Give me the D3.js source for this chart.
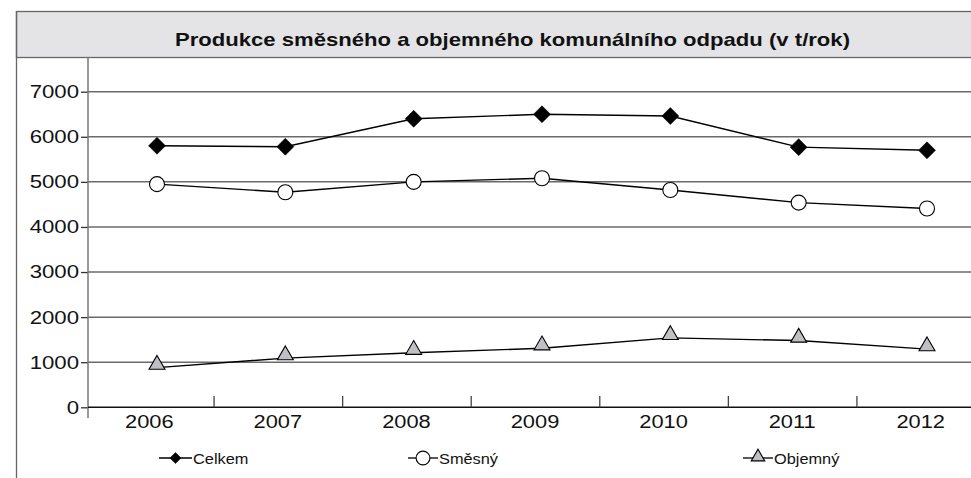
<!DOCTYPE html>
<html>
<head>
<meta charset="utf-8">
<script src="https://cdn.jsdelivr.net/npm/d3@7"></script>
<style>
body { margin: 0; background: #fff; }
svg { display: block; font-family: "Liberation Sans", Arial, sans-serif; }
</style>
</head>
<body>
<script>
var years = ["2006", "2007", "2008", "2009", "2010", "2011", "2012"];
var celkem = [5800, 5780, 6400, 6500, 6460, 5770, 5700];
var smesny = [4950, 4770, 5000, 5080, 4820, 4540, 4410];
var objemny = [880, 1090, 1210, 1310, 1540, 1480, 1290];
var yTicks = [0, 1000, 2000, 3000, 4000, 5000, 6000, 7000];
var title = "Produkce směsného a objemného komunálního odpadu (v t/rok)";

var svgWidth = 971, svgHeight = 478;
var svg = d3.select("body").append("svg").attr("width", svgWidth).attr("height", svgHeight);

// frame + title band
svg.append("rect").attr("x", 16.5).attr("y", 11.5).attr("width", 960).attr("height", 46)
    .attr("fill", "#e4e4e6").attr("stroke", "#666").attr("stroke-width", 1.3);
svg.append("line").attr("x1", 16.5).attr("x2", 16.5).attr("y1", 11).attr("y2", 478)
    .attr("stroke", "#666").attr("stroke-width", 1.3);
svg.append("text").attr("x", 512.5).attr("y", 45.5).attr("text-anchor", "middle")
    .attr("font-size", 19).attr("font-weight", "bold").attr("fill", "#111")
    .attr("textLength", 675).attr("lengthAdjust", "spacingAndGlyphs").text(title);

var xBand = d3.scaleBand().domain(years).range([85, 985]);
var xPoint = d3.scalePoint().domain(years).range([157, 927]);
var y = d3.scaleLinear().domain([0, 7000]).range([407.3, 91.7]);

// gridlines
svg.append("g").selectAll("line").data(yTicks.slice(1)).enter().append("line")
    .attr("x1", 88).attr("x2", svgWidth).attr("y1", d => y(d)).attr("y2", d => y(d))
    .attr("stroke", "#6a6a6a").attr("stroke-width", 1.5);

// y axis
var yAxis = svg.append("g").attr("transform", "translate(88,0)")
    .call(d3.axisLeft(y).tickValues(yTicks).tickSize(7).tickFormat(d3.format("d")));
yAxis.select(".domain").remove();
yAxis.selectAll(".tick line").attr("stroke", "#333").attr("stroke-width", 1.3);
yAxis.selectAll(".tick text").attr("font-size", 18.5).attr("fill", "#111")
    .attr("font-family", "Liberation Sans, Arial, sans-serif")
    .attr("transform", "scale(1.2,1)").attr("x", -9 / 1.2);
svg.append("line").attr("x1", 88).attr("x2", 88).attr("y1", 57).attr("y2", 418)
    .attr("stroke", "#777").attr("stroke-width", 1.5);

// x axis
var xAxis = svg.append("g").attr("transform", "translate(0,407.3)")
    .call(d3.axisBottom(xBand).tickSize(0).tickPadding(7));
xAxis.select(".domain").remove();
xAxis.selectAll(".tick text").attr("font-size", 19).attr("fill", "#111")
    .attr("font-family", "Liberation Sans, Arial, sans-serif")
    .attr("transform", "scale(1.15,1)");
svg.append("line").attr("x1", 88).attr("x2", svgWidth).attr("y1", 407.3).attr("y2", 407.3)
    .attr("stroke", "#111").attr("stroke-width", 1.5);
svg.append("g").selectAll("line").data(years.slice(1)).enter().append("line")
    .attr("x1", d => xBand(d) + 0.5).attr("x2", d => xBand(d) + 0.5)
    .attr("y1", 396).attr("y2", 407.3)
    .attr("stroke", "#444").attr("stroke-width", 1.3);

var line = d3.line().x((d, i) => xPoint(years[i])).y(d => y(d));

// diamond = square rotated 45deg
var series = [
    { name: "Celkem", values: celkem, symbol: d3.symbolSquare, rot: 45, fill: "#000", size: 144, legendSize: 62, dy: 0 },
    { name: "Směsný", values: smesny, symbol: d3.symbolCircle, rot: 0, fill: "#fff", size: 177, legendSize: 150, dy: 0 },
    { name: "Objemný", values: objemny, symbol: d3.symbolTriangle, rot: 0, fill: "#c0c0c4", size: 110, legendSize: 80, dy: -3 }
];

series.forEach(function(s) {
    svg.append("path").datum(s.values).attr("d", line)
        .attr("fill", "none").attr("stroke", "#000").attr("stroke-width", 1.4);
    svg.append("g").selectAll("path").data(s.values).enter().append("path")
        .attr("d", d3.symbol().type(s.symbol).size(s.size))
        .attr("transform", (d, i) => `translate(${xPoint(years[i])},${y(d) + s.dy}) rotate(${s.rot})`)
        .attr("fill", s.fill).attr("stroke", "#000")
        .attr("stroke-width", s.rot ? 0.5 : 1.1);
});

// legend
var legendX = [159, 408, 743];
var legendY = 458;
series.forEach(function(s, i) {
    var g = svg.append("g").attr("transform", `translate(${legendX[i]},${legendY})`);
    var w = i === 0 ? 33 : 30;
    g.append("line").attr("x1", 0).attr("x2", w).attr("y1", 0).attr("y2", 0)
        .attr("stroke", "#000").attr("stroke-width", 1.3);
    g.append("path").attr("d", d3.symbol().type(s.symbol).size(s.legendSize))
        .attr("transform", `translate(${w / 2},${s.dy ? -1 : 0}) rotate(${s.rot})`)
        .attr("fill", s.fill).attr("stroke", "#000")
        .attr("stroke-width", s.rot ? 0.5 : 1.1);
    g.append("text").attr("y", 5.5)
        .attr("font-size", 15).attr("fill", "#111")
        .attr("transform", "scale(1.09,1)").attr("x", (w + 1) / 1.09)
        .text(s.name);
});
</script>
</body>
</html>
